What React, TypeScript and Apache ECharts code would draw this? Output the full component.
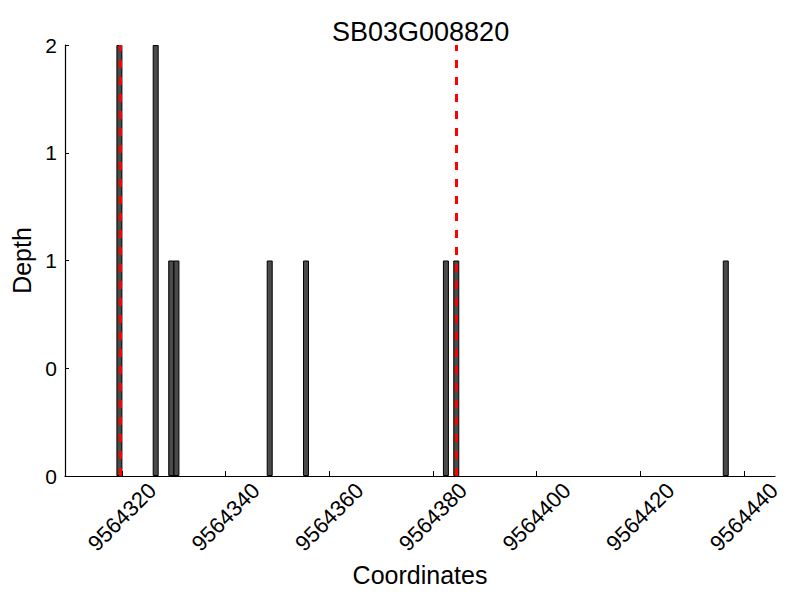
import React, { useEffect, useRef } from "react";
import * as echarts from "echarts";

const title = "SB03G008820";
const positions = [9564319, 9564326, 9564329, 9564330, 9564348, 9564355, 9564382, 9564384, 9564436];
const depths = [2, 2, 1, 1, 1, 1, 1, 1, 1];
const redLines = [9564319.6, 9564384.45];
const xTicks = [9564320, 9564340, 9564360, 9564380, 9564400, 9564420, 9564440];
const xMin = 9564309;
const xMax = 9564446;

const FONT = "Liberation Sans, Arial, Helvetica, sans-serif";

export default function App() {
  const ref = useRef<HTMLDivElement>(null);
  useEffect(() => {
    document.body.style.margin = "0";
    if (!ref.current) return;
    const chart = echarts.init(ref.current, null, { renderer: "svg" });
    const data = positions.map((p, i) => [p + 0.5, depths[i]]);
    chart.setOption({
      animation: false,
      backgroundColor: "#fff",
      textStyle: { fontFamily: FONT },
      title: {
        text: title,
        left: 327,
        top: 13,
        textStyle: { fontFamily: FONT, fontSize: 27, fontWeight: "normal", color: "#000" },
      },
      grid: { left: 65, right: 25, top: 45, bottom: 124, containLabel: false },
      xAxis: {
        type: "value",
        min: xMin,
        max: xMax,
        name: "Coordinates",
        nameLocation: "middle",
        nameGap: 74,
        nameTextStyle: { fontFamily: FONT, fontSize: 25, color: "#000" },
        axisLine: { show: true, lineStyle: { color: "#000", width: 1.2 } },
        axisTick: { show: true, inside: true, length: 5, customValues: xTicks, lineStyle: { color: "#000" } },
        axisLabel: {
          customValues: xTicks,
          rotate: 45,
          align: "center",
          verticalAlign: "middle",
          margin: 41,
          fontFamily: FONT,
          fontSize: 22,
          color: "#000",
          formatter: (v: number) => String(v),
        },
        splitLine: { show: false },
      },
      yAxis: {
        type: "value",
        min: 0,
        max: 2,
        interval: 0.5,
        name: "Depth",
        nameLocation: "middle",
        nameGap: 26,
        nameTextStyle: { fontFamily: FONT, fontSize: 25, color: "#000" },
        axisLine: { show: true, lineStyle: { color: "#000", width: 1.2 } },
        axisTick: { show: true, inside: true, length: 4, lineStyle: { color: "#000" } },
        axisLabel: {
          margin: 8,
          fontFamily: FONT,
          fontSize: 21,
          color: "#000",
          formatter: (v: number) => String(Math.floor(v)),
        },
        splitLine: { show: false },
      },
      series: [
        {
          type: "bar",
          data,
          barWidth: 6,
          itemStyle: { color: "#4a4a4a", borderColor: "#000", borderWidth: 1 },
          markLine: {
            silent: true,
            symbol: "none",
            z: 10,
            label: { show: false },
            lineStyle: { color: "#ff0000", width: 3, type: [8, 9] },
            data: redLines.map((x) => ({ xAxis: x })),
          },
        },
      ],
    });
    return () => chart.dispose();
  }, []);
  return <div ref={ref} style={{ width: 800, height: 600 }} />;
}
